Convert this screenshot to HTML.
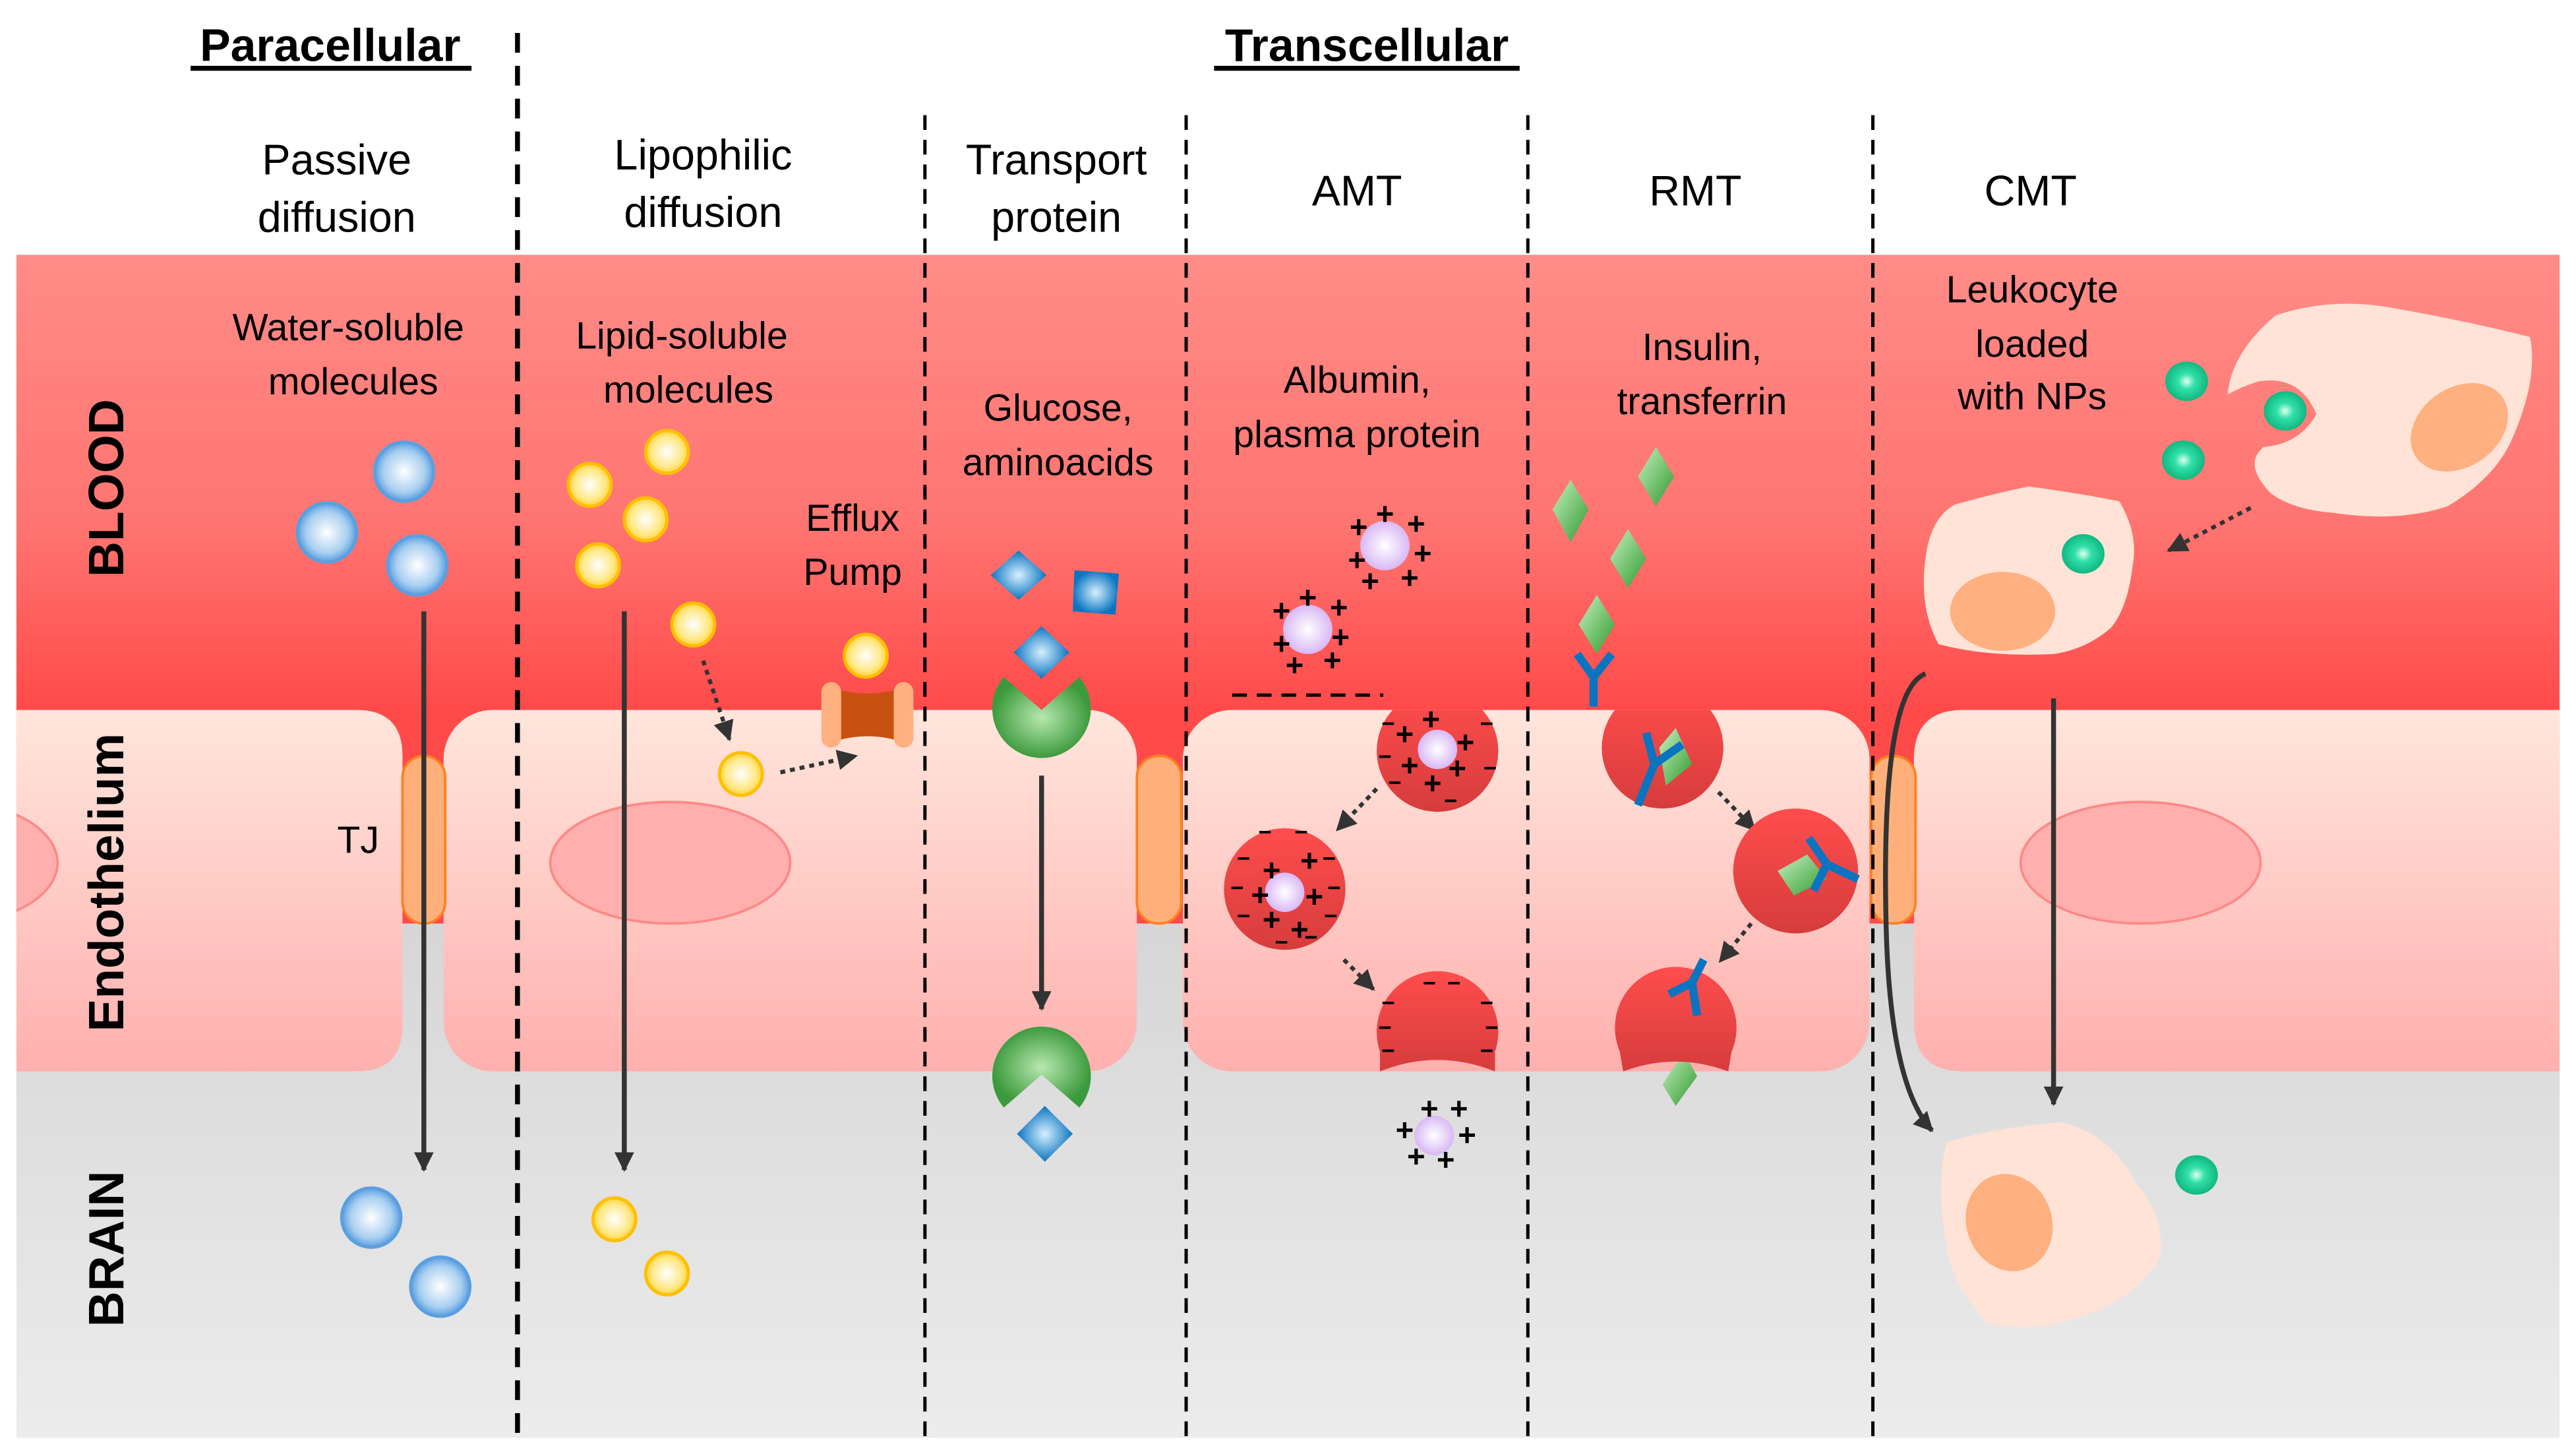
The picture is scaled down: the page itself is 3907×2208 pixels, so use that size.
<!DOCTYPE html>
<html><head><meta charset="utf-8"><style>
html,body{margin:0;padding:0;background:#fff}
svg{display:block}
text{font-family:"Liberation Sans",sans-serif;fill:#000}
</style></head><body>
<svg width="3907" height="2208" viewBox="0 0 1568 886" xmlns="http://www.w3.org/2000/svg">
<defs>
<linearGradient id="blood" x1="0" y1="0" x2="0" y2="1"><stop offset="0" stop-color="#ff8c88"/><stop offset="0.6" stop-color="#ff7470"/><stop offset="1" stop-color="#ff4a4a"/></linearGradient>
<linearGradient id="brain" x1="0" y1="0" x2="0" y2="1"><stop offset="0" stop-color="#d6d6d6"/><stop offset="1" stop-color="#ececec"/></linearGradient>
<linearGradient id="cell" x1="0" y1="0" x2="0" y2="1"><stop offset="0" stop-color="#ffe6dc"/><stop offset="1" stop-color="#ffb0ae"/></linearGradient>
<radialGradient id="blue"><stop offset="0" stop-color="#fff"/><stop offset="0.7" stop-color="#a9cff0"/><stop offset="1" stop-color="#5b9fe0"/></radialGradient>
<radialGradient id="yel"><stop offset="0" stop-color="#fff"/><stop offset="0.7" stop-color="#ffe98a"/><stop offset="1" stop-color="#ffd23a"/></radialGradient>
<radialGradient id="lav"><stop offset="0" stop-color="#fff"/><stop offset="1" stop-color="#d9b8f5"/></radialGradient>
<radialGradient id="bl2"><stop offset="0" stop-color="#d6f0ff"/><stop offset="1" stop-color="#0a74c0"/></radialGradient>
<radialGradient id="grn" cx="0.5" cy="0.5" r="0.5"><stop offset="0" stop-color="#b8e8b0"/><stop offset="1" stop-color="#3c9a3c"/></radialGradient>
<linearGradient id="gd" x1="0" y1="0" x2="1" y2="1"><stop offset="0" stop-color="#c8f0c0"/><stop offset="1" stop-color="#2e9a2e"/></linearGradient>
<radialGradient id="np"><stop offset="0" stop-color="#e0fff0"/><stop offset="0.4" stop-color="#30e0a8"/><stop offset="1" stop-color="#10b880"/></radialGradient>
<linearGradient id="ves" x1="0" y1="0" x2="0" y2="1"><stop offset="0" stop-color="#ff4d4d"/><stop offset="1" stop-color="#d63c3c"/></linearGradient>
<clipPath id="below"><rect x="0" y="432" width="1568" height="300"/></clipPath>
<clipPath id="above"><rect x="0" y="400" width="1568" height="252"/></clipPath>
<clipPath id="leftc"><rect x="10" y="0" width="1600" height="886"/></clipPath>
<marker id="ah" viewBox="0 0 10 10" refX="9" refY="5" markerWidth="4" markerHeight="4" orient="auto"><path d="M0,0L10,5L0,10z" fill="#333"/></marker>
<marker id="ahs" viewBox="0 0 10 10" refX="9" refY="5" markerWidth="5" markerHeight="5" orient="auto"><path d="M0,0L10,5L0,10z" fill="#333"/></marker>
</defs>
<rect x="10" y="155" width="1548" height="277" fill="url(#blood)"/>
<rect x="10" y="430" width="1548" height="135" fill="#ff4a4a"/>
<rect x="10" y="562" width="1548" height="313" fill="url(#brain)"/>
<!-- cells -->
<path d="M10,432 H217 Q245,432 245,460 V624 Q245,652 217,652 H10 Z" fill="url(#cell)"/>
<rect x="270" y="432" width="422" height="220" rx="30" fill="url(#cell)"/>
<rect x="720" y="432" width="418" height="220" rx="30" fill="url(#cell)"/>
<path d="M1558,432 H1195 Q1165,432 1165,462 V622 Q1165,652 1195,652 H1558 Z" fill="url(#cell)"/>
<!-- nuclei -->
<g clip-path="url(#leftc)"><ellipse cx="-30" cy="525" rx="65" ry="37" fill="#ffb0ae" stroke="#f88" stroke-width="1.5"/></g>
<ellipse cx="408" cy="525" rx="73" ry="37" fill="#ffb0ae" stroke="#f88" stroke-width="1.5"/>
<ellipse cx="1303" cy="525" rx="73" ry="37" fill="#ffb0ae" stroke="#f88" stroke-width="1.5"/>
<!-- TJs -->
<rect x="245" y="460" width="26" height="102" rx="13" fill="#ffb07a" stroke="#ff8020" stroke-width="1.5"/>
<rect x="692" y="460" width="27" height="102" rx="13" fill="#ffb07a" stroke="#ff8020" stroke-width="1.5"/>
<rect x="1139" y="460" width="27" height="102" rx="13" fill="#ffb07a" stroke="#ff8020" stroke-width="1.5"/>
<!-- dashed lines -->
<line x1="315" y1="20" x2="315" y2="875" stroke="#000" stroke-width="3" stroke-dasharray="12,8"/>
<g stroke="#000" stroke-width="2" stroke-dasharray="9,6">
<line x1="563" y1="70" x2="563" y2="875"/><line x1="722" y1="70" x2="722" y2="875"/>
<line x1="930" y1="70" x2="930" y2="875"/><line x1="1140" y1="70" x2="1140" y2="875"/>
</g>
<!-- headers -->
<text x="201" y="37" font-size="28" font-weight="bold" text-anchor="middle">Paracellular</text>
<rect x="116" y="40" width="171" height="3"/>
<text x="832" y="37" font-size="28" font-weight="bold" text-anchor="middle">Transcellular</text>
<rect x="739" y="40" width="186" height="3"/>
<g font-size="26" text-anchor="middle">
<text x="205" y="106">Passive</text><text x="205" y="141">diffusion</text>
<text x="428" y="103">Lipophilic</text><text x="428" y="138">diffusion</text>
<text x="643" y="106">Transport</text><text x="643" y="141">protein</text>
<text x="826" y="125">AMT</text><text x="1032" y="125">RMT</text><text x="1236" y="125">CMT</text>
</g>
<g font-size="23" text-anchor="middle">
<text x="212" y="207">Water-soluble</text><text x="215" y="240">molecules</text>
<text x="415" y="212">Lipid-soluble</text><text x="419" y="245">molecules</text>
<text x="519" y="323">Efflux</text><text x="519" y="356">Pump</text>
<text x="644" y="256">Glucose,</text><text x="644" y="289">aminoacids</text>
<text x="826" y="239">Albumin,</text><text x="826" y="272">plasma protein</text>
<text x="1036" y="219">Insulin,</text><text x="1036" y="252">transferrin</text>
<text x="1237" y="184">Leukocyte</text><text x="1237" y="217">loaded</text><text x="1237" y="249">with NPs</text>
<text x="218" y="519">TJ</text>
</g>
<g font-size="30" font-weight="bold" text-anchor="middle">
<text transform="translate(75,297) rotate(-90)">BLOOD</text>
<text transform="translate(75,537) rotate(-90)">Endothelium</text>
<text transform="translate(75,760) rotate(-90)">BRAIN</text>
</g>
<!-- blue spheres -->
<g fill="url(#blue)" stroke="#5b9fe0" stroke-width="2">
<circle cx="246" cy="287" r="18"/><circle cx="199" cy="324" r="18"/><circle cx="254" cy="344" r="18"/>
<circle cx="226" cy="741" r="18"/><circle cx="268" cy="783" r="18"/>
</g>
<!-- yellow -->
<g fill="url(#yel)" stroke="#ffc000" stroke-width="2">
<circle cx="406" cy="275" r="13"/><circle cx="359" cy="295" r="13"/><circle cx="393" cy="316" r="13"/><circle cx="364" cy="344" r="13"/><circle cx="422" cy="380" r="13"/><circle cx="451" cy="471" r="13"/><circle cx="527" cy="399" r="13"/>
<circle cx="374" cy="742" r="13"/><circle cx="406" cy="775" r="13"/>
</g>
<!-- efflux pump -->
<path d="M505,418 Q528,426 551,418 V452 Q528,444 505,452 Z" fill="#c85010"/>
<rect x="500" y="415" width="12" height="40" rx="6" fill="#ffb080"/>
<rect x="544" y="415" width="12" height="40" rx="6" fill="#ffb080"/>
<!-- straight arrows -->
<g stroke="#333" stroke-width="3" marker-end="url(#ah)">
<line x1="258" y1="372" x2="258" y2="712"/><line x1="380" y1="372" x2="380" y2="712"/>
<line x1="634" y1="472" x2="634" y2="614"/><line x1="1250" y1="425" x2="1250" y2="672"/>
<path d="M1172,410 Q1145,420 1148,560 Q1150,660 1176,688" fill="none"/>
</g>
<!-- dotted arrows -->
<g stroke="#333" stroke-width="2.5" stroke-dasharray="3,3" marker-end="url(#ahs)" fill="none">
<line x1="428" y1="402" x2="444" y2="450"/><line x1="475" y1="470" x2="521" y2="460"/>
<line x1="838" y1="480" x2="814" y2="505"/><line x1="818" y1="584" x2="836" y2="602"/>
<line x1="1046" y1="482" x2="1068" y2="505"/><line x1="1066" y1="562" x2="1047" y2="585"/>
<line x1="1370" y1="309" x2="1320" y2="335"/>
</g>
<!-- glucose -->
<g fill="url(#bl2)">
<path d="M620,335 L637,350 L620,365 L603,350Z"/>
<path d="M654,347 L681,349 L679,374 L653,372Z"/>
<path d="M634,381 L651,397 L634,413 L617,397Z"/>
<path d="M636,673 L653,690 L636,707 L619,690Z"/>
</g>
<path d="M611,412 L634,432 L657,412 A30,30 0 1 1 611,412Z" fill="url(#grn)"/>
<path d="M611,674 L634,654 L657,674 A30,30 0 1 0 611,674Z" fill="url(#grn)"/>
<!-- AMT -->
<line x1="750" y1="423" x2="842" y2="423" stroke="#000" stroke-width="2" stroke-dasharray="9,6"/>
<g clip-path="url(#below)"><circle cx="875" cy="457" r="37" fill="url(#ves)"/></g>
<circle cx="782" cy="541" r="37" fill="url(#ves)"/>
<path d="M840,640 A37,37 0 1 1 910,640 L910,652 Q875,638 840,652Z" fill="url(#ves)"/>
<g fill="url(#lav)">
<circle cx="843" cy="332" r="15"/><circle cx="796" cy="383" r="15"/><circle cx="875" cy="456" r="12"/><circle cx="782" cy="543" r="12"/><circle cx="873" cy="691" r="12"/>
</g>
<g font-size="19" font-weight="bold" text-anchor="middle">
<text x="843" y="319">+</text><text x="827" y="327">+</text><text x="862" y="325">+</text><text x="866" y="343">+</text><text x="826" y="347">+</text><text x="834" y="360">+</text><text x="858" y="358">+</text>
<text x="796" y="370">+</text><text x="780" y="378">+</text><text x="815" y="376">+</text><text x="816" y="394">+</text><text x="780" y="398">+</text><text x="788" y="411">+</text><text x="811" y="408">+</text>
<text x="871" y="444">+</text><text x="855" y="453">+</text><text x="892" y="458">+</text><text x="858" y="472">+</text><text x="887" y="474">+</text><text x="872" y="483">+</text>
<text x="797" y="530">+</text><text x="774" y="536">+</text><text x="767" y="551">+</text><text x="800" y="552">+</text><text x="774" y="566">+</text><text x="791" y="572">+</text>
<text x="870" y="681">+</text><text x="888" y="681">+</text><text x="855" y="694">+</text><text x="893" y="697">+</text><text x="862" y="710">+</text><text x="880" y="712">+</text>
</g>
<g font-size="14" font-weight="bold" text-anchor="middle">
<text x="845" y="445">−</text><text x="905" y="445">−</text><text x="843" y="465">−</text><text x="907" y="472">−</text><text x="849" y="481">−</text><text x="883" y="492">−</text>
<text x="770" y="511">−</text><text x="792" y="511">−</text><text x="757" y="527">−</text><text x="809" y="527">−</text><text x="753" y="545">−</text><text x="812" y="545">−</text><text x="757" y="562">−</text><text x="810" y="562">−</text><text x="780" y="578">−</text><text x="798" y="575">−</text>
<text x="870" y="603">−</text><text x="885" y="603">−</text><text x="845" y="615">−</text><text x="905" y="615">−</text><text x="843" y="630">−</text><text x="908" y="630">−</text><text x="845" y="644">−</text><text x="905" y="644">−</text>
</g>
<!-- RMT -->
<g fill="url(#gd)">
<path d="M956,292 L967,310 L956,330 L945,310Z"/>
<path d="M1008,272 L1019,290 L1008,308 L997,290Z"/>
<path d="M991,322 L1002,340 L991,358 L980,340Z"/>
<path d="M972,362 L983,380 L972,398 L961,380Z"/>
<path d="M1025,640 L1033,655 L1020,673 L1012,660Z"/>
</g>
<g clip-path="url(#below)"><circle cx="1012" cy="455" r="37" fill="url(#ves)"/></g>
<circle cx="1093" cy="530" r="38" fill="url(#ves)"/>
<path d="M986,640 A37,37 0 1 1 1054,640 L1052,652 Q1020,640 988,652Z" fill="url(#ves)"/>
<path d="M1020,443 L1030,465 L1014,478 L1010,455Z" fill="url(#gd)"/>
<path d="M1082,530 L1100,520 L1112,535 L1092,545Z" fill="url(#gd)"/>
<g stroke="#0a74c0" stroke-width="5" fill="none">
<path d="M960,398 L970,412 L981,398 M970,412 V430"/>
<path d="M997,490 L1007,465 L1002,446 M1007,465 L1024,453"/>
<path d="M1131,535 L1112,526 L1101,510 M1112,526 L1104,542"/>
<path d="M1016,605 L1030,598 L1037,584 M1030,598 L1033,618"/>
</g>
<!-- CMT cells -->
<path d="M1385,192 Q1420,180 1460,188 Q1500,195 1540,205 Q1545,230 1530,265 Q1520,290 1490,308 Q1460,318 1420,312 Q1395,310 1382,300 Q1365,282 1378,272 Q1400,270 1410,252 Q1400,228 1375,232 Q1365,235 1356,240 Q1358,215 1385,192Z" fill="#ffe3d6"/>
<ellipse cx="1497" cy="260" rx="32" ry="24" transform="rotate(-35 1497 260)" fill="#ffb080"/>
<path d="M1190,307 Q1215,300 1235,296 Q1265,300 1290,305 Q1302,325 1298,345 Q1295,370 1285,382 Q1270,395 1250,398 Q1210,400 1180,392 Q1168,370 1172,340 Q1175,315 1190,307Z" fill="#ffe3d6"/>
<ellipse cx="1219" cy="372" rx="32" ry="24" fill="#ffb080"/>
<path d="M1185,695 Q1220,685 1255,683 Q1285,690 1300,720 Q1318,740 1315,765 Q1300,790 1270,800 Q1240,812 1210,805 Q1190,785 1185,760 Q1178,720 1185,695Z" fill="#ffe3d6"/>
<ellipse cx="1223" cy="744" rx="26" ry="30" transform="rotate(-20 1223 744)" fill="#ffb080"/>
<g fill="url(#np)">
<ellipse cx="1331" cy="232" rx="13" ry="12"/><ellipse cx="1391" cy="250" rx="13" ry="12"/><ellipse cx="1329" cy="280" rx="13" ry="12"/><ellipse cx="1268" cy="337" rx="13" ry="12"/><ellipse cx="1337" cy="715" rx="13" ry="12"/>
</g>
</svg>
</body></html>
